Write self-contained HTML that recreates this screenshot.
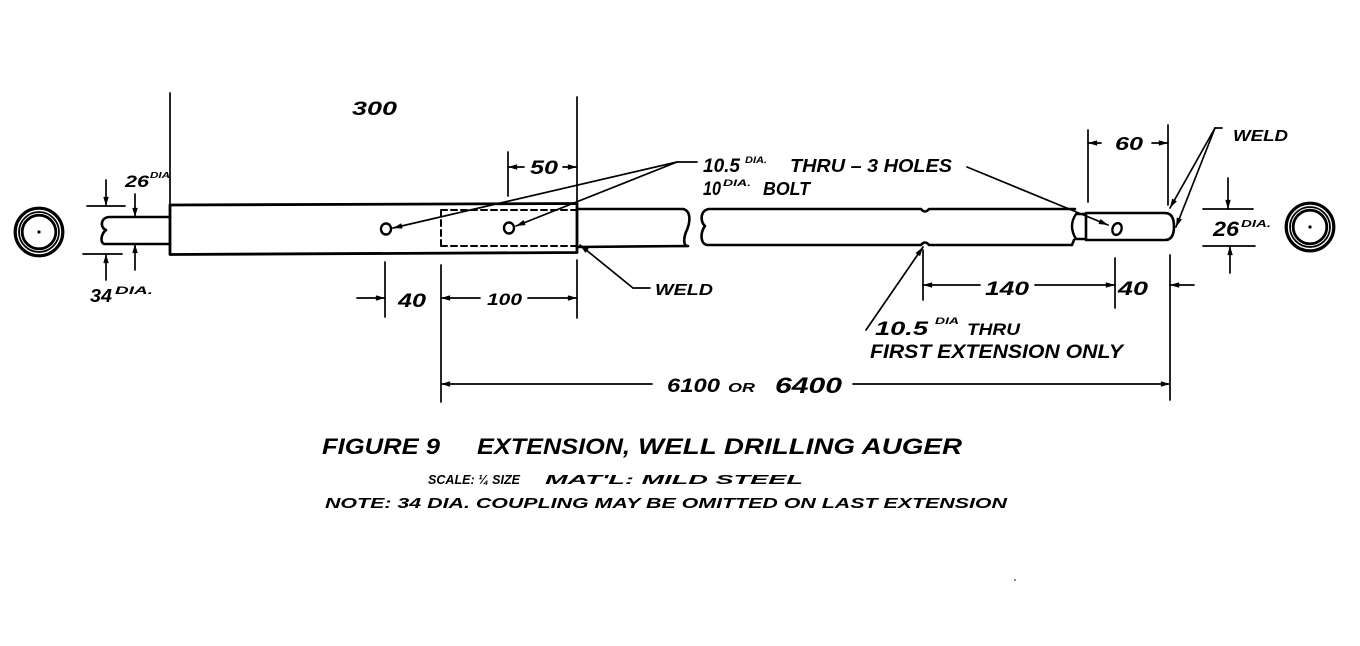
<!DOCTYPE html>
<html><head><meta charset="utf-8"><style>
html,body{margin:0;padding:0;background:#fff;}
svg{display:block;}
text{font-family:"Liberation Sans",sans-serif;font-style:italic;font-weight:bold;fill:#000;}
</style></head><body>
<svg width="1360" height="646" viewBox="0 0 1360 646" xmlns="http://www.w3.org/2000/svg">
<defs>
<marker id="a" viewBox="0 0 10 6" refX="10" refY="3" markerWidth="10" markerHeight="5.5" orient="auto" markerUnits="userSpaceOnUse"><path d="M0 0 L10 3 L0 6 z" fill="#000"/></marker>
</defs>
<rect width="1360" height="646" fill="#fff"/>
<g fill="none" stroke="#000" stroke-linecap="round" stroke-linejoin="round">
<!-- left end view -->
<circle cx="39" cy="232" r="23.8" stroke-width="3.2"/>
<circle cx="39" cy="232" r="20" stroke-width="1.8"/>
<circle cx="39" cy="232" r="16.8" stroke-width="2.8"/>
<!-- right end view -->
<circle cx="1310" cy="227" r="23.8" stroke-width="3.2"/>
<circle cx="1310" cy="227" r="20" stroke-width="1.8"/>
<circle cx="1310" cy="227" r="16.8" stroke-width="2.8"/>

<!-- left stub pipe -->
<path d="M170 217 L110 217 C100 217 100 228 106 230 C101 234 100 242 104 244 L170 244" stroke-width="2.6"/>
<!-- coupling -->
<path d="M170 205 L577 203.5 L577 252.5 L170 254.5 Z" stroke-width="2.8"/>
<path d="M441 210 L577 210 M441 246 L577 246 M441 210 L441 246" stroke-width="2" stroke-dasharray="6 4"/>
<ellipse cx="386" cy="229" rx="5" ry="5.5" stroke-width="2.4"/>
<ellipse cx="509" cy="228" rx="5" ry="5.5" stroke-width="2.4"/>

<!-- pipe segment 1 -->
<path d="M577 209 L683 209 C692 211 690 224 686 232 C683 240 684 247 688 246 L577 247" stroke-width="2.6"/>
<!-- pipe segment 2 -->
<path d="M1075 209 L929 209 Q925 214 921 209 L709 209 C700 210 700 222 705 226 C700 232 700 245 708 245 L921 245 Q925 240 929 245 L1072 245 L1074 240" stroke-width="2.6"/>
<path d="M1086 214 L1076 214 Q1068 226 1076 239 L1086 239" stroke-width="2.4"/>
<!-- pin -->
<path d="M1086 213 L1165 213 Q1174 213 1174 226.5 Q1174 240 1165 240 L1086 240 Z" stroke-width="2.6"/>
<ellipse cx="1117" cy="229" rx="4.5" ry="6" stroke-width="2.4" transform="rotate(20 1117 229)"/>

<!-- extension lines -->
<g stroke-width="1.7">
<line x1="170" y1="93" x2="170" y2="204"/>
<line x1="577" y1="97" x2="577" y2="203"/>
<line x1="508" y1="152" x2="508" y2="196"/>
<line x1="385" y1="262" x2="385" y2="317"/>
<line x1="441" y1="265" x2="441" y2="402"/>
<line x1="577" y1="260" x2="577" y2="318"/>
<line x1="1088" y1="130" x2="1088" y2="202"/>
<line x1="1168" y1="125" x2="1168" y2="205"/>
<line x1="923" y1="250" x2="923" y2="300"/>
<line x1="1115" y1="258" x2="1115" y2="308"/>
<line x1="1170" y1="255" x2="1170" y2="400"/>
<line x1="87" y1="206" x2="125" y2="206"/>
<line x1="83" y1="254" x2="122" y2="254"/>
<line x1="1203" y1="209" x2="1253" y2="209"/>
<line x1="1203" y1="246" x2="1255" y2="246"/>
</g>

<!-- dimension arrows -->
<g stroke-width="1.7" marker-end="url(#a)">
<line x1="106" y1="180" x2="106" y2="206"/>
<line x1="135" y1="194" x2="135" y2="217"/>
<line x1="106" y1="280" x2="106" y2="254"/>
<line x1="135" y1="270" x2="135" y2="244"/>
<line x1="524" y1="167" x2="508" y2="167"/>
<line x1="563" y1="167" x2="577" y2="167"/>
<line x1="357" y1="298" x2="385" y2="298"/>
<line x1="480" y1="298" x2="441" y2="298"/>
<line x1="528" y1="298" x2="577" y2="298"/>
<line x1="652" y1="384" x2="441" y2="384"/>
<line x1="853" y1="384" x2="1170" y2="384"/>
<line x1="1101" y1="143" x2="1088" y2="143"/>
<line x1="1152" y1="143" x2="1168" y2="143"/>
<line x1="980" y1="285" x2="923" y2="285"/>
<line x1="1035" y1="285" x2="1115" y2="285"/>
<line x1="1194" y1="285" x2="1170" y2="285"/>
<line x1="1228" y1="178" x2="1228" y2="209"/>
<line x1="1230" y1="273" x2="1230" y2="246"/>
<line x1="677" y1="162" x2="393" y2="228"/>
<line x1="677" y1="162" x2="516" y2="226"/>
<line x1="967" y1="167" x2="1108" y2="225"/>
<line x1="633" y1="288" x2="580" y2="245"/>
<line x1="1215" y1="128" x2="1170" y2="208"/>
<line x1="1215" y1="128" x2="1176" y2="227"/>
<line x1="866" y1="330" x2="923" y2="247"/>
</g>
<g stroke-width="1.7">
<line x1="677" y1="162" x2="697" y2="162"/>
<line x1="633" y1="288" x2="650" y2="288"/>
<line x1="1215" y1="128" x2="1222" y2="128"/>
</g>
</g>
<circle cx="39" cy="232" r="1.6" fill="#000"/>
<circle cx="1310" cy="227" r="1.6" fill="#000"/>
<circle cx="1015" cy="580" r="0.8" fill="#000"/>

<!-- text -->
<text x="352" y="115" font-size="19" textLength="45" lengthAdjust="spacingAndGlyphs">300</text>
<text x="125" y="187" font-size="17" textLength="24" lengthAdjust="spacingAndGlyphs">26</text>
<text x="150" y="178" font-size="8" textLength="20" lengthAdjust="spacingAndGlyphs">DIA</text>
<text x="90" y="302" font-size="18" textLength="22" lengthAdjust="spacingAndGlyphs">34</text>
<text x="115" y="294" font-size="11" textLength="38" lengthAdjust="spacingAndGlyphs">DIA.</text>
<text x="530" y="174" font-size="19" textLength="28" lengthAdjust="spacingAndGlyphs">50</text>
<text x="703" y="172" font-size="19" textLength="37" lengthAdjust="spacingAndGlyphs">10.5</text>
<text x="745" y="163" font-size="9" textLength="22" lengthAdjust="spacingAndGlyphs">DIA.</text>
<text x="790" y="172" font-size="18" textLength="162" lengthAdjust="spacingAndGlyphs">THRU – 3 HOLES</text>
<text x="703" y="195" font-size="19" textLength="18" lengthAdjust="spacingAndGlyphs">10</text>
<text x="723" y="186" font-size="9" textLength="28" lengthAdjust="spacingAndGlyphs">DIA.</text>
<text x="763" y="195" font-size="18" textLength="47" lengthAdjust="spacingAndGlyphs">BOLT</text>
<text x="655" y="295" font-size="16" textLength="58" lengthAdjust="spacingAndGlyphs">WELD</text>
<text x="398" y="307" font-size="19" textLength="28" lengthAdjust="spacingAndGlyphs">40</text>
<text x="487" y="305" font-size="17" textLength="35" lengthAdjust="spacingAndGlyphs">100</text>
<text x="1115" y="150" font-size="18" textLength="28" lengthAdjust="spacingAndGlyphs">60</text>
<text x="1233" y="141" font-size="16" textLength="55" lengthAdjust="spacingAndGlyphs">WELD</text>
<text x="1213" y="236" font-size="21" textLength="26" lengthAdjust="spacingAndGlyphs">26</text>
<text x="1241" y="227" font-size="10" textLength="30" lengthAdjust="spacingAndGlyphs">DIA.</text>
<text x="985" y="295" font-size="19" textLength="44" lengthAdjust="spacingAndGlyphs">140</text>
<text x="1118" y="295" font-size="19" textLength="30" lengthAdjust="spacingAndGlyphs">40</text>
<text x="875" y="335" font-size="19" textLength="53" lengthAdjust="spacingAndGlyphs">10.5</text>
<text x="935" y="324" font-size="9" textLength="24" lengthAdjust="spacingAndGlyphs">DIA</text>
<text x="967" y="335" font-size="17" textLength="53" lengthAdjust="spacingAndGlyphs">THRU</text>
<text x="870" y="358" font-size="19" textLength="253" lengthAdjust="spacingAndGlyphs">FIRST EXTENSION ONLY</text>
<text x="667" y="392" font-size="19" textLength="53" lengthAdjust="spacingAndGlyphs">6100</text>
<text x="728" y="392" font-size="13" textLength="27" lengthAdjust="spacingAndGlyphs">OR</text>
<text x="775" y="393" font-size="22" textLength="67" lengthAdjust="spacingAndGlyphs">6400</text>
<text x="322" y="454" font-size="22" textLength="118" lengthAdjust="spacingAndGlyphs">FIGURE 9</text>
<text x="477" y="454" font-size="22" textLength="153" lengthAdjust="spacingAndGlyphs">EXTENSION,</text>
<text x="638" y="454" font-size="22" textLength="324" lengthAdjust="spacingAndGlyphs">WELL DRILLING AUGER</text>
<text x="428" y="484" font-size="13" textLength="92" lengthAdjust="spacingAndGlyphs">SCALE: ¼ SIZE</text>
<text x="545" y="484" font-size="13" textLength="258" lengthAdjust="spacingAndGlyphs">MAT'L: MILD STEEL</text>
<text x="325" y="508" font-size="15" textLength="682" lengthAdjust="spacingAndGlyphs">NOTE: 34 DIA. COUPLING MAY BE OMITTED ON LAST EXTENSION</text>
</svg>
</body></html>
